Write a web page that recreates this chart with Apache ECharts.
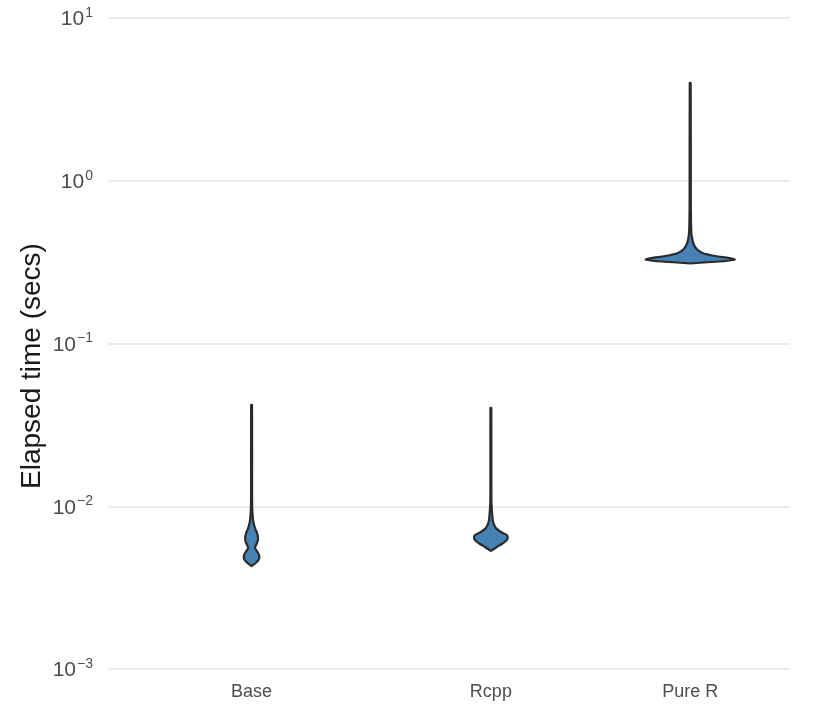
<!DOCTYPE html>
<html>
<head>
<meta charset="utf-8">
<script src="https://cdn.jsdelivr.net/npm/echarts@6/dist/echarts.min.js"></script>
<style>html,body{margin:0;padding:0;background:#fff}#c{width:825px;height:707px}</style>
</head>
<body>
<div id="c"></div>
<script>
// Categories and their positions on the x axis
var categories = ['Base', 'Rcpp', 'Pure R'];
var catPos = [1, 2, 2.833];
// Axis title
var yTitle = 'Elapsed time (secs)';
// Violin density profiles: [elapsed seconds, relative density]
var baseProfile = [
  [0.0419, 0.01], [0.01093, 0.011], [0.00884, 0.022], [0.0080, 0.04], [0.00735, 0.075],
  [0.00685, 0.12], [0.00647, 0.14], [0.00612, 0.135], [0.00578, 0.1], [0.00554, 0.075],
  [0.00531, 0.115], [0.00502, 0.165], [0.00474, 0.165], [0.00454, 0.115], [0.00439, 0.05], [0.00429, 0]
];
var rcppProfile = [
  [0.0402, 0.01], [0.01093, 0.011], [0.00884, 0.03], [0.0080, 0.05], [0.00735, 0.11],
  [0.00695, 0.22], [0.00666, 0.35], [0.00638, 0.37], [0.00612, 0.33], [0.00586, 0.24],
  [0.00562, 0.13], [0.00538, 0.03], [0.00532, 0]
];
var pureRProfile = [
  [3.99, 0.01], [0.7615, 0.013], [0.498, 0.022], [0.4447, 0.04], [0.4088, 0.075],
  [0.3806, 0.14], [0.3597, 0.27], [0.3447, 0.55], [0.3351, 0.86], [0.3281, 0.98],
  [0.3212, 0.78], [0.3167, 0.46], [0.3123, 0.14], [0.3101, 0]
];
var profiles = [baseProfile, rcppProfile, pureRProfile];

var widthScale = 0.19; // x-axis units per unit density
var FONT = 'Liberation Sans, Arial, sans-serif';

var chart = echarts.init(document.getElementById('c'), null, {renderer: 'canvas'});

function supLabel(v) {
  var e = Math.round(Math.log10(v));
  var s = e < 0 ? '\u2212' + (-e) : String(e);
  return '{b|10}{s|' + s + '}';
}

var option = {
  backgroundColor: '#ffffff',
  animation: false,
  grid: {left: 108, right: 35, top: 18, bottom: 38, containLabel: false},
  graphic: [{
    type: 'text',
    x: 32,
    y: 366,
    rotation: Math.PI / 2,
    style: {
      text: yTitle,
      fill: '#1a1a1a',
      font: '28px ' + FONT,
      align: 'center',
      verticalAlign: 'middle'
    }
  }],
  xAxis: {
    type: 'value',
    min: 0.4,
    max: 3.25,
    axisLine: {show: false},
    axisTick: {show: false},
    splitLine: {show: false},
    axisLabel: {
      customValues: catPos,
      formatter: function (v) {
        for (var i = 0; i < catPos.length; i++) {
          if (Math.abs(catPos[i] - v) < 1e-6) return categories[i];
        }
        return '';
      },
      color: '#4d4d4d',
      fontSize: 18,
      fontFamily: FONT,
      margin: 14
    }
  },
  yAxis: {
    type: 'log',
    logBase: 10,
    min: 0.001,
    max: 10,
    axisLine: {show: false},
    axisTick: {show: false},
    minorTick: {show: false},
    splitLine: {show: true, lineStyle: {color: '#e5e5e5', width: 1.6}},
    axisLabel: {
      margin: 15,
      formatter: supLabel,
      rich: {
        b: {fontSize: 21, color: '#4d4d4d', fontFamily: FONT, lineHeight: 24, verticalAlign: 'bottom'},
        s: {fontSize: 14, color: '#4d4d4d', fontFamily: FONT, lineHeight: 24, verticalAlign: 'top', padding: [0, 0, 12, 1]}
      }
    }
  },
  series: [{
    type: 'custom',
    data: catPos.map(function (p, i) { return [p, i]; }),
    encode: {x: 0},
    renderItem: function (params, api) {
      var xc = api.value(0);
      var idx = api.value(1);
      var prof = profiles[idx];
      var right = [], left = [];
      for (var k = 0; k < prof.length; k++) {
        var v = prof[k][0], d = prof[k][1] * widthScale;
        right.push(api.coord([xc + d, v]));
        left.push(api.coord([xc - d, v]));
      }
      var pts = right.concat(left.reverse());
      return {
        type: 'polygon',
        shape: {points: pts, smooth: 0.25},
        style: {fill: '#4682B4', stroke: '#2b2b2b', lineWidth: 2.2}
      };
    }
  }]
};
chart.setOption(option);
</script>
</body>
</html>
